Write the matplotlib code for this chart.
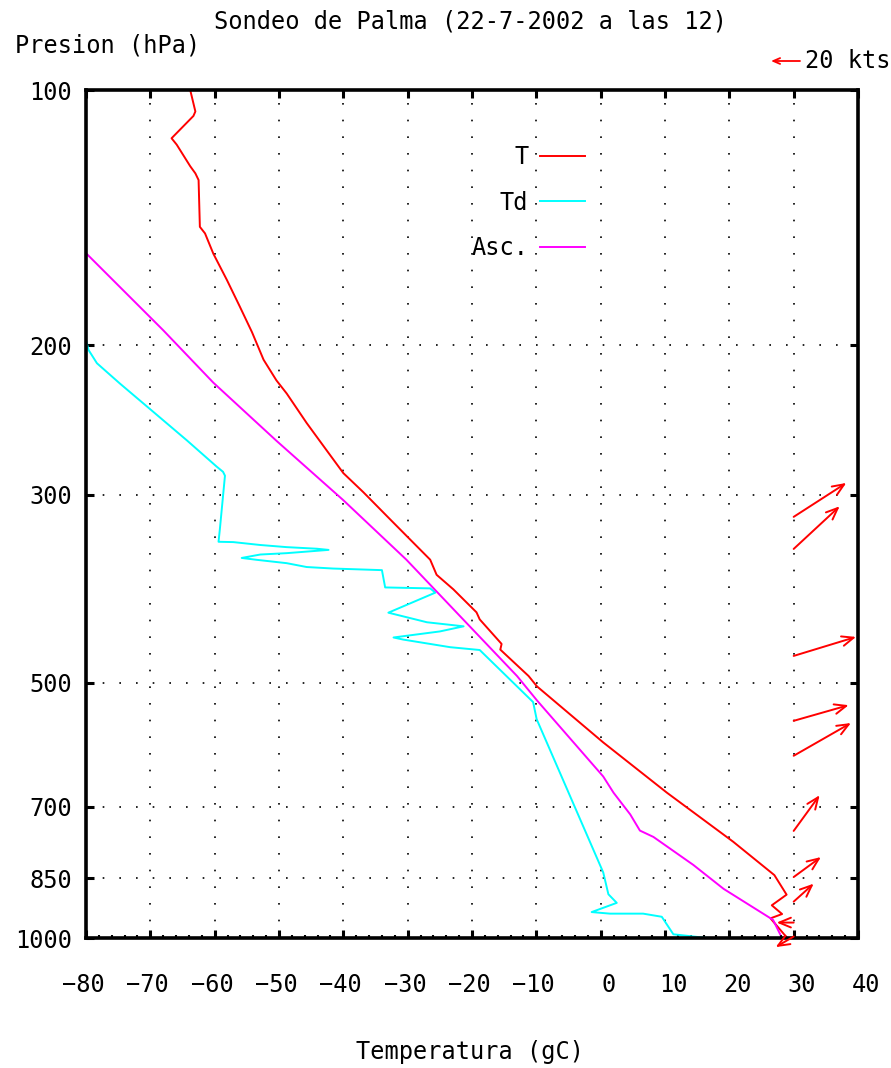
import numpy as np
import matplotlib
matplotlib.use("Agg")
import matplotlib.pyplot as plt
from matplotlib.ticker import FixedLocator, FixedFormatter, NullLocator, MultipleLocator
from matplotlib.transforms import offset_copy, ScaledTranslation

# ---------------- data ----------------
title = "Sondeo de Palma (22-7-2002 a las 12)"
xlabel = "Temperatura (gC)"
ylabel = "Presion (hPa)"

t_p = [100, 106, 107.3, 114, 116, 123, 125.4, 127.7, 145, 147.6, 156, 167.5, 180, 193,
       208, 220, 228, 247, 266, 283, 298, 321, 342, 358, 373, 388, 413, 421, 450, 457,
       491, 505, 588, 674, 770, 843, 889, 915, 937, 948, 1000]
t_t = [-63.8, -63.0, -63.3, -66.7, -65.9, -63.8, -63.0, -62.5, -62.3, -61.5, -60.2, -58.1,
       -56.1, -54.2, -52.4, -50.4, -48.8, -45.7, -42.6, -40.0, -36.9, -32.7, -29.1, -26.5,
       -25.5, -22.9, -19.3, -18.8, -15.4, -15.6, -11.2, -9.9, 0.4, 10.3, 20.6, 27.0, 28.9,
       26.6, 28.2, 26.4, 29.0]

td_p = [197.3, 202.6, 210, 222, 238, 259, 278, 282, 285, 330, 341, 341.3, 344, 346, 347.5,
        348.6, 351.7, 353, 356.3, 358.1, 361.4, 365.2, 366.7, 368.3, 386, 387, 391.5, 413.4,
        424.3, 429, 435, 442.2, 444.7, 454, 457.5, 527, 552, 837, 888, 909, 932, 936, 936,
        944, 990, 999, 1004]
td_t = [-80.0, -79.6, -78.3, -74.7, -70.0, -64.3, -59.7, -58.7, -58.4, -59.2, -59.4, -57.1,
        -52.9, -48.8, -44.1, -42.3, -48.8, -52.9, -55.8, -53.5, -48.8, -45.7, -41.6, -34.0,
        -33.5, -26.5, -25.7, -33.0, -27.0, -21.3, -25.0, -32.2, -30.7, -23.4, -18.8, -10.5,
        -9.95, 0.4, 1.2, 2.5, -1.4, 1.45, 6.6, 9.5, 11.3, 16.0, 21.7]

asc_p = [155.2, 192, 221.4, 259.2, 304.6, 358, 417, 491, 524.6, 645, 674, 715, 747, 760,
         820, 875, 952, 990]
asc_t = [-80.2, -68.0, -60.2, -50.4, -40.0, -30.2, -21.9, -13.0, -9.9, 0.4, 2.0, 4.6, 6.1,
         8.2, 14.4, 19.1, 26.8, 27.9]

# wind vectors (u, v components in knots) at pressure levels
wind_p = [318.7, 347.7, 464.9, 554.5, 609.7, 747.7, 847.5, 906, 959, 996]
wind_u = [36.3, 31.7, 43.0, 37.9, 39.5, 17.9, 18.8, 13.8, -11.7, -12.4]
wind_v = [23.4, 29.4, 13.1, 10.8, 22.6, 24.6, 13.8, 12.4, 0.0, -7.3]
wind_ref_kts = 20

x_ticks = [-80, -70, -60, -50, -40, -30, -20, -10, 0, 10, 20, 30, 40]
y_ticks = [100, 200, 300, 500, 700, 850, 1000]
y_ticklabels = ["100", "200", "300", "500", "700", "850", "1000"]

# ---------------- style ----------------
FONT = ["DejaVu Sans Mono", "DejaVu Sans"]
FS = 17
plt.rcParams["font.family"] = FONT
plt.rcParams["font.size"] = FS

W, H, DPI = 891, 1068, 100
fig = plt.figure(figsize=(W / DPI, H / DPI), dpi=DPI)
fig.patch.set_facecolor("white")

L, R, T, B = 86, 858, 90, 938
ax = fig.add_axes([L / W, 1 - B / H, (R - L) / W, (B - T) / H])

ax.set_yscale("log")
ax.set_xlim(-80, 40)
ax.set_ylim(1000, 100)

lw = 1.4
ax.plot(t_t, t_p, color="#ff0000", lw=lw, label="T")
ax.plot(td_t, td_p, color="#00ffff", lw=lw, label="Td")
ax.plot(asc_t, asc_p, color="#ff00ff", lw=lw, label="Asc.")

# ticks
ax.xaxis.set_major_locator(FixedLocator(x_ticks))
ax.xaxis.set_minor_locator(MultipleLocator(2))
ax.yaxis.set_major_locator(FixedLocator(y_ticks))
ax.yaxis.set_major_formatter(FixedFormatter(y_ticklabels))
ax.yaxis.set_minor_locator(NullLocator())
ax.tick_params(axis="both", which="major", direction="in", length=6, width=2.2,
               top=True, right=True, labelsize=FS, colors="black")
ax.tick_params(axis="x", which="major", pad=25)
ax.tick_params(axis="y", which="major", pad=10)
ax.tick_params(axis="x", which="minor", direction="in", length=2.5, width=1.5,
               top=False, bottom=True)

for sp in ax.spines.values():
    sp.set_linewidth(2.6)
    sp.set_color("black")

# dotted grid
ax.grid(True, which="major", axis="both", color="black", lw=1.2,
        linestyle=(0, (1, 9)))

# shift x tick labels a bit like the original
fig.canvas.draw()
for val, lab in zip(x_ticks, ax.get_xticklabels()):
    dx = 6 if val >= 0 else -2
    lab.set_transform(lab.get_transform() + ScaledTranslation(dx / 72, 0, fig.dpi_scale_trans))

# legend
leg = ax.legend(loc="upper right", bbox_to_anchor=(585 / W, 1 - 145 / H),
                bbox_transform=fig.transFigure, frameon=False, markerfirst=False,
                handlelength=1.9, handletextpad=0.5, labelspacing=0.92,
                borderpad=0, borderaxespad=0, fontsize=FS)

# wind arrows (tail on the 30 gC line)
px_per_kt = 29.0 / wind_ref_kts
WIND_X = 30
for p, u, v in zip(wind_p, wind_u, wind_v):
    head = offset_copy(ax.transData, fig=fig, x=u * px_per_kt, y=v * px_per_kt, units="dots")
    ax.annotate("", xy=(WIND_X, p), xycoords=head, xytext=(WIND_X, p), textcoords="data",
                arrowprops=dict(arrowstyle="->,head_length=0.6,head_width=0.25",
                                color="#ff0000", lw=1.4, shrinkA=0, shrinkB=0,
                                mutation_scale=14),
                annotation_clip=False)

# reference arrow
tail_x, ref_y = 800, H - 61
fig.add_artist(matplotlib.patches.FancyArrowPatch(
    (tail_x, ref_y), (tail_x - wind_ref_kts * px_per_kt, ref_y),
    transform=None, arrowstyle="->,head_length=0.35,head_width=0.15",
    color="#ff0000", lw=1.3, mutation_scale=14, shrinkA=0, shrinkB=0))
fig.text(805 / W, 1 - 61 / H, "20 kts", ha="left", va="center", fontsize=FS)

# texts
fig.text(470 / W, 1 - 22 / H, title, ha="center", va="center", fontsize=FS)
fig.text(15 / W, 1 - 45 / H, ylabel, ha="left", va="center", fontsize=FS)
fig.text(470 / W, 1 - 1052 / H, xlabel, ha="center", va="center", fontsize=FS)

fig.savefig("out.png", dpi=DPI, facecolor="white")
